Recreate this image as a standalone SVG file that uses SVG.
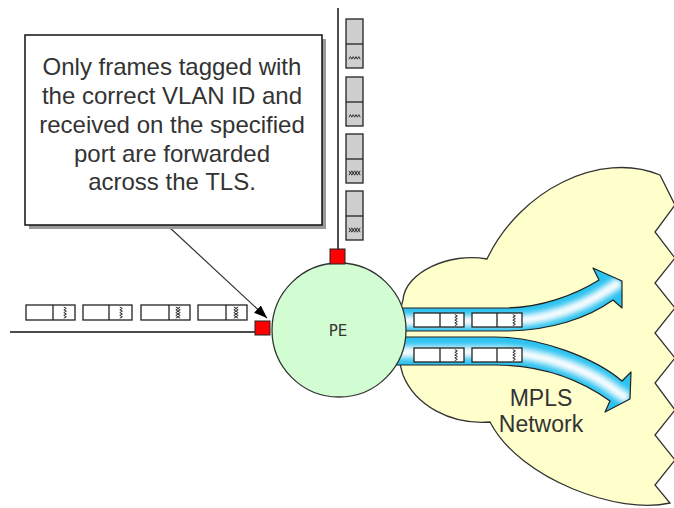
<svg xmlns="http://www.w3.org/2000/svg" width="674" height="508" viewBox="0 0 674 508">
<defs>
<style>
.frm{fill:#fff;stroke:#222;stroke-width:1.3}
.vfrm{fill:#cfcfcf;stroke:#222;stroke-width:1.3}
.sq{fill:none;stroke:#333;stroke-width:1}
.port{fill:#f00;stroke:#222;stroke-width:1}
.wire{stroke:#111;stroke-width:1.5;fill:none}
.lbl{font-family:"Liberation Sans",Arial,sans-serif;fill:#333;text-anchor:middle}
.arr{fill:#2cc2ef}
.arrline{fill:none;stroke:#222;stroke-width:1.2;stroke-linejoin:round}
</style>
<filter id="soft" x="-10%" y="-50%" width="120%" height="200%"><feGaussianBlur stdDeviation="2.2"/></filter>
<path id="z1" class="sq" d="M-1.2,-5.5 l2.6,1.4 l-2.6,1.4 l2.6,1.4 l-2.6,1.4 l2.6,1.4 l-2.6,1.4 l2.6,1.4 l-2.6,1.4"/>
<g id="z2"><path class="sq" d="M-2.2,-5.5 l2.4,1.4 l-2.4,1.4 l2.4,1.4 l-2.4,1.4 l2.4,1.4 l-2.4,1.4 l2.4,1.4 l-2.4,1.4"/><path class="sq" d="M2.2,-5.5 l-2.4,1.4 l2.4,1.4 l-2.4,1.4 l2.4,1.4 l-2.4,1.4 l2.4,1.4 l-2.4,1.4 l2.4,1.4"/></g>
<marker id="ah" markerWidth="14" markerHeight="12" refX="13" refY="5" orient="auto" markerUnits="userSpaceOnUse"><path d="M0,0 L13,5 L0,10 Z" fill="#000"/></marker>
<clipPath id="cu"><path d="M385,308 L505,308 C540,308 575,295 599,280 L593,268 L622,281 L622,308 L613,300 C588,318 550,331 505,331 L385,331 Z"/></clipPath>
<clipPath id="cl"><path d="M385,337 L495,337 C540,337 595,358 622,381 L631,372 L630,399 L605,412 L610,401 C578,378 540,365 495,365 L385,365 Z"/></clipPath>
</defs>

<g id="cloud">
<path d="M403,300 C405,272 450,252 487,259 C520,190 600,150 660,175 L675,205 L655,232 L675,258 L655,283 L675,308 L655,333 L675,358 L655,383 L675,410 L655,435 L675,460 L655,485 L670,503 C620,515 520,480 490,422 C450,425 415,405 403,375 C395,350 395,325 403,300 Z" fill="#ffffcc" stroke="#333" stroke-width="1.3"/>
<text class="lbl" x="541" y="406" font-size="23">MPLS</text>
<text class="lbl" x="541" y="432" font-size="23">Network</text>
</g>

<g id="flow-upper">
<path class="arr" d="M385,308 L505,308 C540,308 575,295 599,280 L593,268 L622,281 L622,308 L613,300 C588,318 550,331 505,331 L385,331 Z"/>
<g clip-path="url(#cu)"><g fill="none" filter="url(#soft)">
<path d="M380,321 L505,321 C545,321 582,307 606,291 L620,282" stroke="#9ae3f8" stroke-width="14"/>
<path d="M380,321 L505,321 C545,321 582,307 606,291 L620,282" stroke="#ffffff" stroke-width="6"/>
</g></g>
<path class="arrline" d="M385,308 L505,308 C540,308 575,295 599,280 L593,268 L622,281 L622,308 L613,300 C588,318 550,331 505,331 L385,331 Z"/>
</g>

<g id="flow-lower">
<path class="arr" d="M385,337 L495,337 C540,337 595,358 622,381 L631,372 L630,399 L605,412 L610,401 C578,378 540,365 495,365 L385,365 Z"/>
<g clip-path="url(#cl)"><g fill="none" filter="url(#soft)">
<path d="M380,352 L495,352 C540,352 590,370 616,391 L628,399" stroke="#9ae3f8" stroke-width="15"/>
<path d="M380,352 L495,352 C540,352 590,370 616,391 L628,399" stroke="#ffffff" stroke-width="6"/>
</g></g>
<path class="arrline" d="M385,337 L495,337 C540,337 595,358 622,381 L631,372 L630,399 L605,412 L610,401 C578,378 540,365 495,365 L385,365 Z"/>
</g>

<g id="flow-frames">
<rect class="frm" x="414" y="313" width="50" height="14"/><line class="frm" x1="440" y1="313" x2="440" y2="327"/><use href="#z1" x="456" y="320"/>
<rect class="frm" x="472" y="313" width="50" height="14"/><line class="frm" x1="497" y1="313" x2="497" y2="327"/><use href="#z1" x="514" y="320"/>
<rect class="frm" x="414" y="348" width="50" height="14"/><line class="frm" x1="440" y1="348" x2="440" y2="362"/><use href="#z1" x="456" y="355"/>
<rect class="frm" x="472" y="348" width="50" height="14"/><line class="frm" x1="497" y1="348" x2="497" y2="362"/><use href="#z1" x="514" y="355"/>
</g>

<g id="connectors">
<line class="wire" x1="338" y1="8" x2="338" y2="249"/>
<line class="wire" x1="10" y1="332" x2="255" y2="332"/>
<line x1="168" y1="226" x2="267" y2="318" stroke="#333" stroke-width="1.2" marker-end="url(#ah)"/>
</g>

<g id="vertical-frames">
<rect class="vfrm" x="346" y="19" width="17" height="49"/><line class="vfrm" x1="346" y1="44" x2="363" y2="44"/><use href="#z1" transform="translate(354.5,58) rotate(-90)"/>
<rect class="vfrm" x="346" y="77" width="17" height="49"/><line class="vfrm" x1="346" y1="102" x2="363" y2="102"/><use href="#z1" transform="translate(354.5,116) rotate(-90)"/>
<rect class="vfrm" x="346" y="134" width="17" height="49"/><line class="vfrm" x1="346" y1="159" x2="363" y2="159"/><use href="#z2" transform="translate(354.5,173) rotate(-90)"/>
<rect class="vfrm" x="346" y="191" width="17" height="49"/><line class="vfrm" x1="346" y1="216" x2="363" y2="216"/><use href="#z2" transform="translate(354.5,230) rotate(-90)"/>
</g>

<g id="horizontal-frames">
<rect class="frm" x="26" y="305" width="49" height="15"/><line class="frm" x1="53" y1="305" x2="53" y2="320"/><use href="#z1" x="65" y="312.5"/>
<rect class="frm" x="83" y="305" width="49" height="15"/><line class="frm" x1="109" y1="305" x2="109" y2="320"/><use href="#z1" x="121" y="312.5"/>
<rect class="frm" x="141" y="305" width="49" height="15"/><line class="frm" x1="169" y1="305" x2="169" y2="320"/><use href="#z2" x="178" y="312.5"/>
<rect class="frm" x="198" y="305" width="49" height="15"/><line class="frm" x1="226" y1="305" x2="226" y2="320"/><use href="#z2" x="236" y="312.5"/>
</g>

<g id="pe">
<circle cx="339" cy="330" r="67" fill="#d2fdd2" stroke="#333" stroke-width="1.3"/>
<text x="338" y="336" font-family="'DejaVu Sans',Verdana,sans-serif" font-size="15" fill="#333" text-anchor="middle">PE</text>
</g>

<g id="ports">
<rect class="port" x="330" y="249" width="15" height="15"/>
<rect class="port" x="255" y="321" width="15" height="14"/>
</g>

<g id="callout">
<rect x="29" y="39" width="297" height="190" fill="#9a9a9a"/>
<rect x="25" y="35" width="297" height="190" fill="#fff" stroke="#111" stroke-width="1.5"/>
<g class="lbl" font-size="24">
<text x="172" y="75">Only frames tagged with</text>
<text x="172" y="104">the correct VLAN ID and</text>
<text x="172" y="133">received on the specified</text>
<text x="172" y="162">port are forwarded</text>
<text x="172" y="190">across the TLS.</text>
</g>
</g>
</svg>
